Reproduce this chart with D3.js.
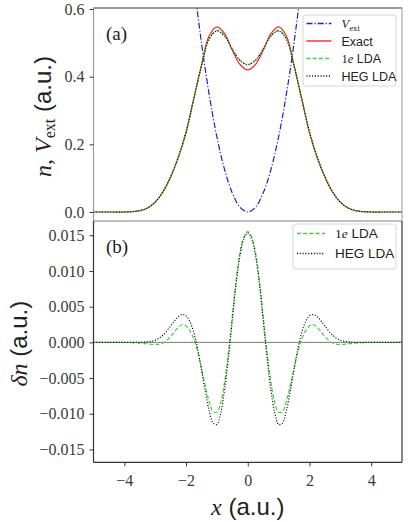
<!DOCTYPE html>
<html>
<head>
<meta charset="utf-8">
<script src="https://cdn.jsdelivr.net/npm/d3@7"></script>
<style>
    body { margin: 0; background: white; }
    svg { display: block; }
</style>
</head>
<body>
<svg id="chart" width="410" height="522"></svg>
<script>
// panel (a): densities and potential
const xDens = [-5, -4.5, -4, -3.75, -3.5, -3.25, -3, -2.75, -2.5, -2.25, -2, -1.75, -1.5, -1.25, -1, -0.75, -0.5, -0.25,
    0, 0.25, 0.5, 0.75, 1, 1.25, 1.5, 1.75, 2, 2.25, 2.5, 2.75, 3, 3.25, 3.5, 3.75, 4, 4.5, 5];
const nExact = [0, 0, 0, 0.001, 0.004, 0.012, 0.029, 0.059, 0.103, 0.160, 0.234, 0.334, 0.435, 0.521, 0.547, 0.527, 0.478, 0.436,
    0.420, 0.436, 0.478, 0.527, 0.547, 0.521, 0.435, 0.334, 0.234, 0.160, 0.103, 0.059, 0.029, 0.012, 0.004, 0.001, 0, 0, 0];
const nOneE = [0, 0, 0, 0.001, 0.004, 0.012, 0.029, 0.059, 0.104, 0.162, 0.236, 0.335, 0.431, 0.513, 0.537, 0.521, 0.482, 0.449,
    0.436, 0.449, 0.482, 0.521, 0.537, 0.513, 0.431, 0.335, 0.236, 0.162, 0.104, 0.059, 0.029, 0.012, 0.004, 0.001, 0, 0, 0];
const nHeg = [0, 0, 0, 0.001, 0.004, 0.012, 0.029, 0.060, 0.105, 0.164, 0.238, 0.335, 0.431, 0.511, 0.535, 0.520, 0.481, 0.448,
    0.435, 0.448, 0.481, 0.520, 0.535, 0.511, 0.431, 0.335, 0.238, 0.164, 0.105, 0.060, 0.029, 0.012, 0.004, 0.001, 0, 0, 0];

const xPot = [-2, -1.75, -1.5, -1.25, -1, -0.75, -0.5, -0.25, 0, 0.25, 0.5, 0.75, 1, 1.25, 1.5, 1.75, 2];
const vExt = [0.889, 0.681, 0.500, 0.347, 0.222, 0.125, 0.056, 0.014, 0, 0.014, 0.056, 0.125, 0.222, 0.347, 0.500, 0.681, 0.889];

// panel (b): density errors
const xDelta = [-5, -4.5, -4, -3.5, -3.25, -3, -2.75, -2.5, -2.375, -2.25, -2.125, -2, -1.875, -1.75, -1.625, -1.5, -1.375,
    -1.25, -1.125, -1, -0.875, -0.75, -0.625, -0.5, -0.375, -0.25, -0.125, 0, 0.125, 0.25, 0.375, 0.5, 0.625, 0.75, 0.875,
    1, 1.125, 1.25, 1.375, 1.5, 1.625, 1.75, 1.875, 2, 2.125, 2.25, 2.375, 2.5, 2.75, 3, 3.25, 3.5, 4, 4.5, 5];
const dOneE = [0, 0, 0, -0.0001, -0.0002, -0.0003, -0.0001, 0.0008, 0.0015, 0.0021, 0.0025, 0.0023, 0.0016, 0.0005, -0.0013,
    -0.0036, -0.0061, -0.0083, -0.0097, -0.0098, -0.0084, -0.0055, -0.0014, 0.0037, 0.0088, 0.0126, 0.0148, 0.0155, 0.0148,
    0.0126, 0.0088, 0.0037, -0.0014, -0.0055, -0.0084, -0.0098, -0.0097, -0.0083, -0.0061, -0.0036, -0.0013, 0.0005, 0.0016,
    0.0023, 0.0025, 0.0021, 0.0015, 0.0008, -0.0001, -0.0003, -0.0002, -0.0001, 0, 0, 0];
const dHeg = [0, 0, 0, 0, 0.0001, 0.0003, 0.0010, 0.0023, 0.0030, 0.0036, 0.0039, 0.0037, 0.0029, 0.0014, -0.0009,
    -0.0038, -0.0069, -0.0096, -0.0113, -0.0115, -0.0099, -0.0066, -0.0021, 0.0031, 0.0083, 0.0122, 0.0145, 0.0153, 0.0145,
    0.0122, 0.0083, 0.0031, -0.0021, -0.0066, -0.0099, -0.0115, -0.0113, -0.0096, -0.0069, -0.0038, -0.0009, 0.0014, 0.0029,
    0.0037, 0.0039, 0.0036, 0.0030, 0.0023, 0.0010, 0.0003, 0.0001, 0, 0, 0, 0];

const xTicks = [-4, -2, 0, 2, 4];
const yTicksA = [0, 0.2, 0.4, 0.6];
const yTicksB = [-0.015, -0.010, -0.005, 0, 0.005, 0.010, 0.015];

const serif = "'Liberation Serif', 'DejaVu Serif', serif";
const sans = "'Liberation Sans', 'DejaVu Sans', sans-serif";

const svg = d3.select("#chart");

const left = 93.5, right = 402;
const panelA = { top: 8, bottom: 221 };
const panelB = { top: 221, bottom: 462.3 };

const xScale = d3.scaleLinear().domain([-5, 5]).range([left, right]);
const yScaleA = d3.scaleLinear().domain([-0.0266, 0.603]).range([panelA.bottom, panelA.top]);
const yScaleB = d3.scaleLinear().domain([-0.0168, 0.0170]).range([panelB.bottom, panelB.top]);

const defs = svg.append("defs");
[["clip-a", panelA], ["clip-b", panelB]].forEach(([id, p]) => {
    defs.append("clipPath").attr("id", id)
        .append("rect")
        .attr("x", left).attr("y", p.top)
        .attr("width", right - left).attr("height", p.bottom - p.top);
});

const line = (xs, ys, y) => d3.line()
    .x((d, i) => xScale(xs[i]))
    .y(d => y(d))
    .curve(d3.curveCatmullRom.alpha(0.5))(ys);

const styles = {
    vext: { stroke: "#1f1fd0", dash: "6,2,1.2,2" },
    exact: { stroke: "#f02a2a", dash: null },
    oneE: { stroke: "#3dd13d", dash: "4,2.2" },
    heg: { stroke: "#111111", dash: "1.1,1.7" }
};

// panel (a) curves
const gA = svg.append("g").attr("clip-path", "url(#clip-a)");
[[xPot, vExt, styles.vext], [xDens, nExact, styles.exact], [xDens, nOneE, styles.oneE], [xDens, nHeg, styles.heg]]
    .forEach(([xs, ys, s]) => {
        gA.append("path")
            .attr("d", line(xs, ys, yScaleA))
            .attr("fill", "none")
            .attr("stroke", s.stroke)
            .attr("stroke-width", 1.2)
            .attr("stroke-dasharray", s.dash);
    });

// panel (b) curves
const gB = svg.append("g").attr("clip-path", "url(#clip-b)");
gB.append("line")
    .attr("x1", left).attr("x2", right)
    .attr("y1", yScaleB(0)).attr("y2", yScaleB(0))
    .attr("stroke", "#7a7a7a").attr("stroke-width", 1);
[[xDelta, dOneE, styles.oneE], [xDelta, dHeg, styles.heg]].forEach(([xs, ys, s]) => {
    gB.append("path")
        .attr("d", line(xs, ys, yScaleB))
        .attr("fill", "none")
        .attr("stroke", s.stroke)
        .attr("stroke-width", 1.2)
        .attr("stroke-dasharray", s.dash);
});

// frames
const frame = (p, colours) => {
    const g = svg.append("g").attr("fill", "none").attr("stroke-width", 1.2);
    g.append("line").attr("x1", left).attr("x2", right).attr("y1", p.top).attr("y2", p.top).attr("stroke", colours.top);
    g.append("line").attr("x1", left).attr("x2", right).attr("y1", p.bottom).attr("y2", p.bottom).attr("stroke", colours.bottom);
    g.append("line").attr("x1", left).attr("x2", left).attr("y1", p.top).attr("y2", p.bottom).attr("stroke", colours.left);
    g.append("line").attr("x1", right).attr("x2", right).attr("y1", p.top).attr("y2", p.bottom).attr("stroke", colours.right);
};
frame(panelA, { top: "#333", bottom: "#aaa", left: "#9a9a9a", right: "#aaa" });
frame(panelB, { top: "#aaa", bottom: "#333", left: "#333", right: "#333" });

// axes
const minus = d => d.replace("-", "\u2212");
const styleAxis = g => {
    g.select(".domain").remove();
    g.selectAll(".tick line").attr("stroke", "#333").attr("stroke-width", 1);
    g.selectAll(".tick text")
        .attr("font-family", serif)
        .attr("font-size", 16)
        .attr("fill", "#3a3a3a");
};

svg.append("g")
    .attr("transform", `translate(${left},0)`)
    .call(d3.axisLeft(yScaleA).tickValues(yTicksA).tickFormat(d3.format(".1f")).tickSizeOuter(0).tickSize(4).tickPadding(5))
    .call(styleAxis);

svg.append("g")
    .attr("transform", `translate(${left},0)`)
    .call(d3.axisLeft(yScaleB).tickValues(yTicksB).tickFormat(d => minus(d3.format(".3f")(d))).tickSizeOuter(0).tickSize(4).tickPadding(5))
    .call(styleAxis);

svg.append("g")
    .attr("transform", `translate(0,${panelB.bottom})`)
    .call(d3.axisBottom(xScale).tickValues(xTicks).tickFormat(d => minus(String(d))).tickSizeOuter(0).tickSize(4).tickPadding(8))
    .call(styleAxis);

// axis labels
const labelA = svg.append("text")
    .attr("transform", `translate(51,${(panelA.top + panelA.bottom) / 2 + 2})rotate(-90)`)
    .attr("text-anchor", "middle")
    .attr("font-size", 24)
    .attr("fill", "#222");
labelA.append("tspan").attr("font-family", serif).attr("font-style", "italic").text("n");
labelA.append("tspan").attr("font-family", serif).text(", ");
labelA.append("tspan").attr("font-family", serif).attr("font-style", "italic").text("V");
labelA.append("tspan").attr("font-family", serif).attr("font-size", 16).attr("dy", 4).text("ext");
labelA.append("tspan").attr("font-family", sans).attr("dy", -4).text(" (a.u.)");

const labelB = svg.append("text")
    .attr("transform", `translate(27,${(panelB.top + panelB.bottom) / 2 + 2})rotate(-90)`)
    .attr("text-anchor", "middle")
    .attr("font-size", 24)
    .attr("fill", "#222");
labelB.append("tspan").attr("font-family", serif).attr("font-style", "italic").text("\u03b4n");
labelB.append("tspan").attr("font-family", sans).text(" (a.u.)");

const labelX = svg.append("text")
    .attr("x", xScale(0))
    .attr("y", 515)
    .attr("text-anchor", "middle")
    .attr("font-size", 24)
    .attr("fill", "#222");
labelX.append("tspan").attr("font-family", serif).attr("font-style", "italic").text("x");
labelX.append("tspan").attr("font-family", sans).text(" (a.u.)");

// panel tags
svg.append("text").attr("x", 106).attr("y", 40).attr("font-family", serif).attr("font-size", 19)
    .attr("fill", "#222").text("(a)");
svg.append("text").attr("x", 106).attr("y", 253).attr("font-family", serif).attr("font-size", 19)
    .attr("fill", "#222").text("(b)");

// legends
const legend = (box, entries) => {
    const g = svg.append("g");
    g.append("rect")
        .attr("x", box.x).attr("y", box.y)
        .attr("width", box.w).attr("height", box.h)
        .attr("rx", 3).attr("ry", 3)
        .attr("fill", "white").attr("fill-opacity", 0.85)
        .attr("stroke", "#d6d6d6").attr("stroke-width", 1);
    entries.forEach((e, i) => {
        const y = box.firstY + i * box.step;
        g.append("line")
            .attr("x1", box.lineX).attr("x2", box.lineX + box.lineW)
            .attr("y1", y).attr("y2", y)
            .attr("stroke", e.style.stroke)
            .attr("stroke-width", 1.4)
            .attr("stroke-dasharray", e.style.dash);
        const t = g.append("text")
            .attr("x", box.textX).attr("y", y + 4.5)
            .attr("font-size", box.fontSize)
            .attr("fill", "#222");
        e.parts.forEach(p => {
            const s = t.append("tspan").attr("font-family", p.serif ? serif : sans).text(p.text);
            if (p.italic) s.attr("font-style", "italic");
            if (p.sub) s.attr("font-size", box.fontSize * 0.7).attr("dy", 3);
        });
    });
};

legend({ x: 303, y: 15, w: 93, h: 71, firstY: 23.5, step: 17.5, lineX: 306.5, lineW: 25, textX: 341.5, fontSize: 12.5 }, [
    { style: styles.vext, parts: [{ text: "V", serif: true, italic: true }, { text: "ext", serif: true, sub: true }] },
    { style: styles.exact, parts: [{ text: "Exact" }] },
    { style: styles.oneE, parts: [{ text: "1", serif: true }, { text: "e", serif: true, italic: true }, { text: " LDA" }] },
    { style: styles.heg, parts: [{ text: "HEG LDA" }] }
]);

legend({ x: 293, y: 224, w: 103, h: 45, firstY: 233.5, step: 20, lineX: 297, lineW: 28, textX: 335, fontSize: 13.5 }, [
    { style: styles.oneE, parts: [{ text: "1", serif: true }, { text: "e", serif: true, italic: true }, { text: " LDA" }] },
    { style: styles.heg, parts: [{ text: "HEG LDA" }] }
]);
</script>
</body>
</html>
